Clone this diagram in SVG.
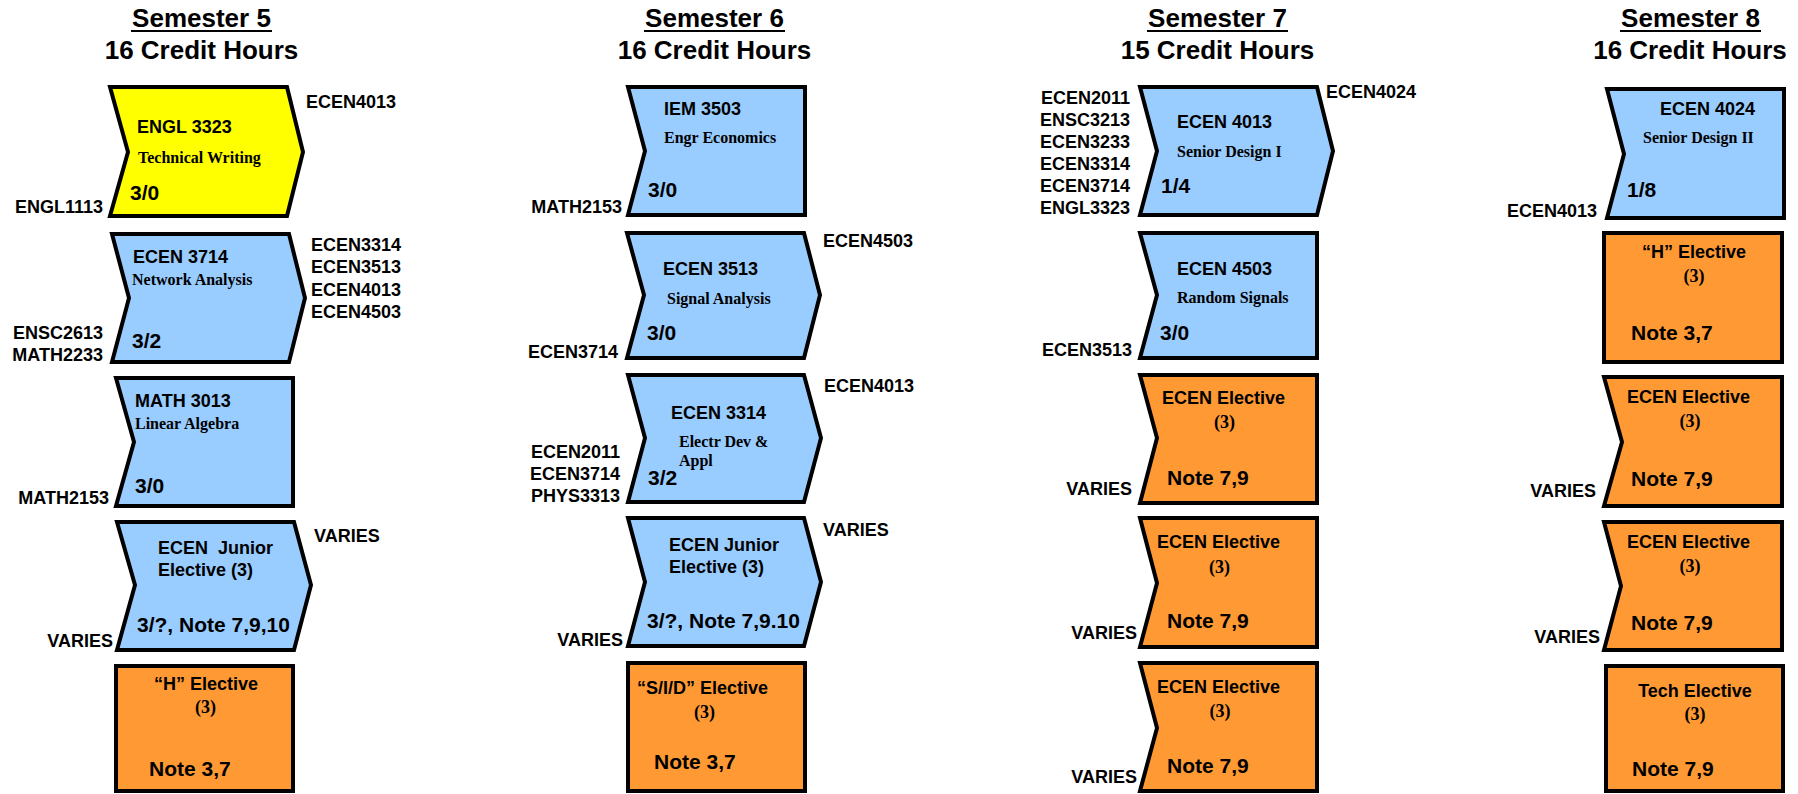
<svg xmlns="http://www.w3.org/2000/svg" width="1798" height="794" viewBox="0 0 1798 794">
<style>
.h{font-family:"Liberation Sans",Arial,sans-serif;font-weight:bold;font-size:26px;text-anchor:middle;fill:#000}
.c{font-family:"Liberation Sans",Arial,sans-serif;font-weight:bold;font-size:18px;fill:#000}
.d{font-family:"Liberation Serif","Times New Roman",serif;font-weight:bold;font-size:16px;fill:#000}
.n{font-family:"Liberation Sans",Arial,sans-serif;font-weight:bold;font-size:21px;fill:#000}
.p{font-family:"Liberation Serif","Times New Roman",serif;font-weight:bold;font-size:18px;text-anchor:middle;fill:#000}
.l{font-family:"Liberation Sans",Arial,sans-serif;font-weight:bold;font-size:18px;fill:#000}
.e{text-anchor:end}
.m{text-anchor:middle}
.box{stroke:#000;stroke-width:4;stroke-linejoin:miter}
.y{fill:#FFFF00}.b{fill:#99CCFF}.o{fill:#FF9933}
.u{stroke:#000;stroke-width:2}
</style>
<rect width="1798" height="794" fill="#fff"/>
<g id="headers">
<text class="h" x="201.5" y="27">Semester 5</text><line class="u" x1="131" y1="31" x2="272" y2="31"/>
<text class="h" x="201.5" y="59">16 Credit Hours</text>
<text class="h" x="714.5" y="27">Semester 6</text><line class="u" x1="644" y1="31" x2="785" y2="31"/>
<text class="h" x="714.5" y="59">16 Credit Hours</text>
<text class="h" x="1217.5" y="27">Semester 7</text><line class="u" x1="1147" y1="31" x2="1288" y2="31"/>
<text class="h" x="1217.5" y="59">15 Credit Hours</text>
<text class="h" x="1690.5" y="27">Semester 8</text><line class="u" x1="1620" y1="31" x2="1761" y2="31"/>
<text class="h" x="1690" y="59">16 Credit Hours</text>
</g>
<g id="connectors"/>

<!-- Semester 5 -->
<g id="engl3323">
<polygon class="box y" points="110,87 287,87 303,152 287,216 110,216 128,152"/>
<text class="c" x="137" y="133">ENGL 3323</text>
<text class="d" x="138" y="163">Technical Writing</text>
<text class="n" x="130" y="200">3/0</text>
<text class="l" x="306" y="108">ECEN4013</text>
<text class="l e" x="103" y="213">ENGL1113</text>
</g>
<g id="ecen3714">
<polygon class="box b" points="112,234 289,234 305,298 289,362 112,362 129,298"/>
<text class="c" x="133" y="263">ECEN 3714</text>
<text class="d" x="132" y="285">Network Analysis</text>
<text class="n" x="132" y="348">3/2</text>
<text class="l" x="311" y="251">ECEN3314</text>
<text class="l" x="311" y="273">ECEN3513</text>
<text class="l" x="311" y="296">ECEN4013</text>
<text class="l" x="311" y="318">ECEN4503</text>
<text class="l e" x="103" y="339">ENSC2613</text>
<text class="l e" x="103" y="361">MATH2233</text>
</g>
<g id="math3013">
<polygon class="box b" points="116,378 293,378 293,506 116,506 134,442"/>
<text class="c" x="135" y="407">MATH 3013</text>
<text class="d" x="135" y="429">Linear Algebra</text>
<text class="n" x="135" y="493">3/0</text>
<text class="l e" x="109" y="504">MATH2153</text>
</g>
<g id="jr-elective-5">
<polygon class="box b" points="117,522 294,522 311,585 294,650 117,650 135,585"/>
<text class="c" x="158" y="554" xml:space="preserve">ECEN  Junior</text>
<text class="c" x="158" y="576">Elective (3)</text>
<text class="n" x="137" y="632">3/?, Note 7,9,10</text>
<text class="l" x="314" y="542">VARIES</text>
<text class="l e" x="113" y="647">VARIES</text>
</g>
<g id="h-elective-5">
<rect class="box o" x="116" y="666" width="177" height="125"/>
<text class="c m" x="206" y="690">“H” Elective</text>
<text class="p" x="205.5" y="713">(3)</text>
<text class="n" x="149" y="776">Note 3,7</text>
</g>

<!-- Semester 6 -->
<g id="iem3503">
<polygon class="box b" points="628,87 805,87 805,215 628,215 645,151"/>
<text class="c" x="664" y="115">IEM 3503</text>
<text class="d" x="664" y="143">Engr Economics</text>
<text class="n" x="648" y="197">3/0</text>
<text class="l e" x="622" y="213">MATH2153</text>
</g>
<g id="ecen3513">
<polygon class="box b" points="627,233 804,233 820,295 804,358 627,358 644,295"/>
<text class="c" x="663" y="275">ECEN 3513</text>
<text class="d" x="667" y="304">Signal Analysis</text>
<text class="n" x="647" y="340">3/0</text>
<text class="l" x="823" y="247">ECEN4503</text>
<text class="l e" x="618" y="358">ECEN3714</text>
</g>
<g id="ecen3314">
<polygon class="box b" points="628,375 804,375 821,438 804,502 628,502 645,438"/>
<text class="c" x="671" y="419">ECEN 3314</text>
<text class="d" x="679" y="447">Electr Dev &amp;</text>
<text class="d" x="679" y="466">Appl</text>
<text class="n" x="648" y="485">3/2</text>
<text class="l" x="824" y="392">ECEN4013</text>
<text class="l e" x="620" y="458">ECEN2011</text>
<text class="l e" x="620" y="480">ECEN3714</text>
<text class="l e" x="620" y="502">PHYS3313</text>
</g>
<g id="jr-elective-6">
<polygon class="box b" points="628,518 804,518 821,582 804,646 628,646 645,582"/>
<text class="c" x="669" y="551">ECEN Junior</text>
<text class="c" x="669" y="573">Elective (3)</text>
<text class="n" x="647" y="628">3/?, Note 7,9.10</text>
<text class="l" x="823" y="536">VARIES</text>
<text class="l e" x="623" y="646">VARIES</text>
</g>
<g id="sid-elective-6">
<rect class="box o" x="628" y="663" width="177" height="128"/>
<text class="c" x="637" y="694">“S/I/D” Elective</text>
<text class="p" x="704.5" y="718">(3)</text>
<text class="n" x="654" y="769">Note 3,7</text>
</g>

<!-- Semester 7 -->
<g id="ecen4013">
<polygon class="box b" points="1140,87 1317,87 1333,151 1317,215 1140,215 1157,151"/>
<text class="c" x="1177" y="128">ECEN 4013</text>
<text class="d" x="1177" y="157">Senior Design I</text>
<text class="n" x="1161" y="193">1/4</text>
<text class="l" x="1326" y="98">ECEN4024</text>
<text class="l e" x="1130" y="104">ECEN2011</text>
<text class="l e" x="1130" y="126">ENSC3213</text>
<text class="l e" x="1130" y="148">ECEN3233</text>
<text class="l e" x="1130" y="170">ECEN3314</text>
<text class="l e" x="1130" y="192">ECEN3714</text>
<text class="l e" x="1130" y="214">ENGL3323</text>
</g>
<g id="ecen4503">
<polygon class="box b" points="1140,233 1317,233 1317,358 1140,358 1157,295"/>
<text class="c" x="1177" y="275">ECEN 4503</text>
<text class="d" x="1177" y="303">Random Signals</text>
<text class="n" x="1160" y="340">3/0</text>
<text class="l e" x="1132" y="356">ECEN3513</text>
</g>
<g id="ecen-elective-7a">
<polygon class="box o" points="1140,375 1317,375 1317,503 1140,503 1157,438"/>
<text class="c" x="1162" y="404">ECEN Elective</text>
<text class="p" x="1224.5" y="428">(3)</text>
<text class="n" x="1167" y="485">Note 7,9</text>
<text class="l e" x="1132" y="495">VARIES</text>
</g>
<g id="ecen-elective-7b">
<polygon class="box o" points="1140,518 1317,518 1317,647 1140,647 1157,583"/>
<text class="c" x="1157" y="548">ECEN Elective</text>
<text class="p" x="1219.5" y="573">(3)</text>
<text class="n" x="1167" y="628">Note 7,9</text>
<text class="l e" x="1137" y="639">VARIES</text>
</g>
<g id="ecen-elective-7c">
<polygon class="box o" points="1140,663 1317,663 1317,791 1140,791 1157,728"/>
<text class="c" x="1157" y="693">ECEN Elective</text>
<text class="p" x="1220" y="717">(3)</text>
<text class="n" x="1167" y="773">Note 7,9</text>
<text class="l e" x="1137" y="783">VARIES</text>
</g>

<!-- Semester 8 -->
<g id="ecen4024">
<polygon class="box b" points="1607,89 1784,89 1784,218 1607,218 1624,154"/>
<text class="c" x="1660" y="115">ECEN 4024</text>
<text class="d" x="1643" y="143">Senior Design II</text>
<text class="n" x="1627" y="197">1/8</text>
<text class="l e" x="1597" y="217">ECEN4013</text>
</g>
<g id="h-elective-8">
<rect class="box o" x="1604" y="233" width="178" height="129"/>
<text class="c m" x="1694" y="258">“H” Elective</text>
<text class="p" x="1694" y="282">(3)</text>
<text class="n" x="1631" y="340">Note 3,7</text>
</g>
<g id="ecen-elective-8a">
<polygon class="box o" points="1604,377 1782,377 1782,506 1604,506 1622,442"/>
<text class="c" x="1627" y="403">ECEN Elective</text>
<text class="p" x="1690" y="427">(3)</text>
<text class="n" x="1631" y="486">Note 7,9</text>
<text class="l e" x="1596" y="497">VARIES</text>
</g>
<g id="ecen-elective-8b">
<polygon class="box o" points="1604,522 1782,522 1782,650 1604,650 1621,586"/>
<text class="c" x="1627" y="548">ECEN Elective</text>
<text class="p" x="1690" y="572">(3)</text>
<text class="n" x="1631" y="630">Note 7,9</text>
<text class="l e" x="1600" y="643">VARIES</text>
</g>
<g id="tech-elective-8">
<rect class="box o" x="1606" y="666" width="177" height="125"/>
<text class="c m" x="1695" y="697">Tech Elective</text>
<text class="p" x="1695" y="720">(3)</text>
<text class="n" x="1632" y="776">Note 7,9</text>
</g>
</svg>
